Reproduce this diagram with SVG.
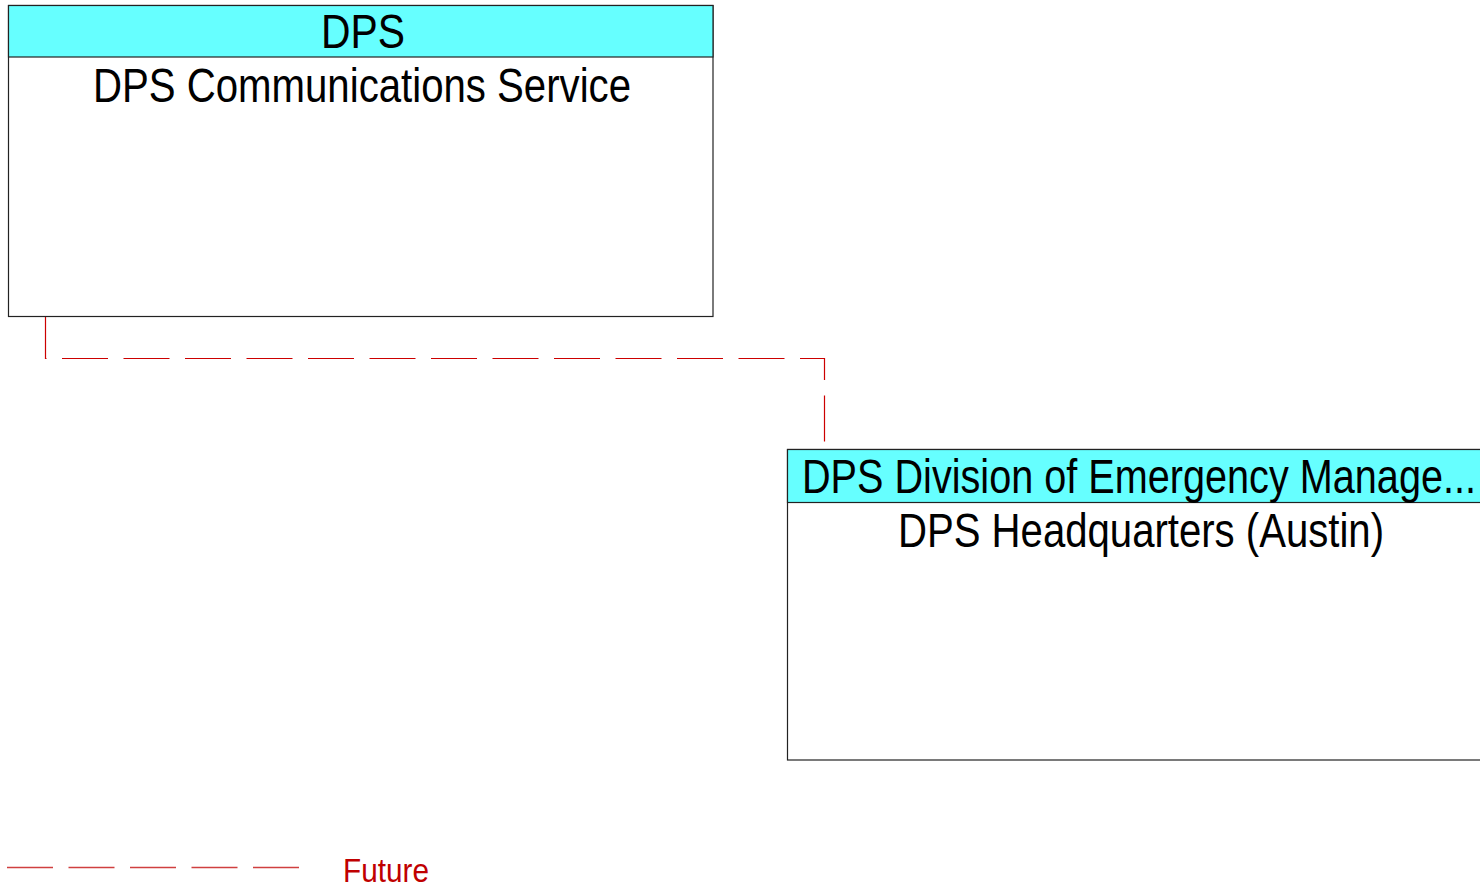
<svg xmlns="http://www.w3.org/2000/svg" width="1480" height="887" viewBox="0 0 1480 887">
  <style>
    .box { fill: #ffffff; stroke: #222222; stroke-width: 1.2; }
    .hdr { fill: #66ffff; stroke: #222222; stroke-width: 1.2; }
    .t { font-family: "Liberation Sans", Arial, sans-serif; font-size: 48px; fill: #000000; text-anchor: middle; }
    .flow { fill: none; stroke: #cc0000; stroke-width: 1.2; stroke-dasharray: 46 15.5; }
    .legline { fill: none; stroke: #d04040; stroke-width: 1.6; stroke-dasharray: 46 15.5; }
    .leg { font-family: "Liberation Sans", Arial, sans-serif; font-size: 33px; fill: #c00000; }
  </style>
  <rect width="1480" height="887" fill="#ffffff"/>
  <g id="connectors">
    <path class="flow" d="M45.5,316 V358.5 H824.5 V441.5" stroke-dashoffset="2.5"/>
  </g>
  <g id="node-dps-comm">
    <rect class="box" x="8.5" y="5.5" width="704.5" height="311"/>
    <rect class="hdr" x="8.5" y="5.5" width="704.5" height="51.5"/>
    <text class="t" x="363" y="48" textLength="84" lengthAdjust="spacingAndGlyphs">DPS</text>
    <text class="t" x="362" y="102" textLength="538" lengthAdjust="spacingAndGlyphs">DPS Communications Service</text>
  </g>
  <g id="node-dps-hq">
    <rect class="box" x="787.5" y="449.5" width="704.5" height="310.5"/>
    <rect class="hdr" x="787.5" y="449.5" width="704.5" height="53"/>
    <text class="t" x="1139" y="493" textLength="674" lengthAdjust="spacingAndGlyphs">DPS Division of Emergency Manage...</text>
    <text class="t" x="1141" y="547" textLength="486" lengthAdjust="spacingAndGlyphs">DPS Headquarters (Austin)</text>
  </g>
  <g id="legend">
    <line class="legline" x1="7" y1="867.5" x2="299" y2="867.5"/>
    <text class="leg" x="343" y="882" textLength="86" lengthAdjust="spacingAndGlyphs">Future</text>
  </g>
</svg>
